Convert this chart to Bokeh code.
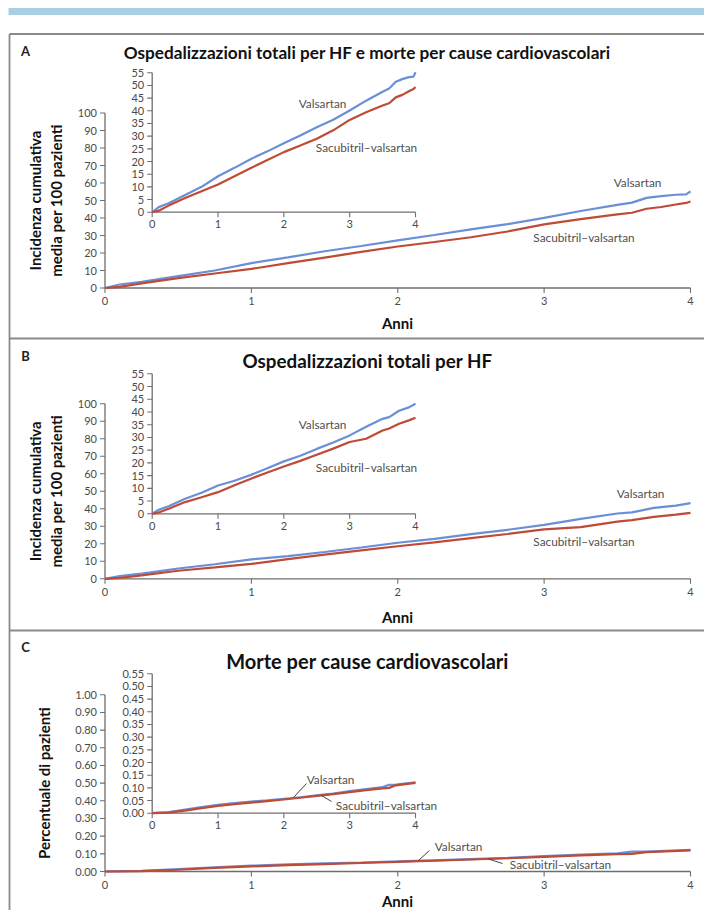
import math
from bokeh.plotting import figure
from bokeh.models import Range1d
from bokeh.core.properties import value
from bokeh.embed import file_html
from bokeh.resources import INLINE

# ---------------- data ----------------
year_ticks = [0, 1, 2, 3, 4]
year_labels = ["0", "1", "2", "3", "4"]

main_ab_yticks = [0, 10, 20, 30, 40, 50, 60, 70, 80, 90, 100]
inset_ab_yticks = [0, 5, 10, 15, 20, 25, 30, 35, 40, 45, 50, 55]
main_c_yticks = [0.0, 0.1, 0.2, 0.3, 0.4, 0.5, 0.6, 0.7, 0.8, 0.9, 1.0]
inset_c_yticks = [0.0, 0.05, 0.10, 0.15, 0.20, 0.25, 0.30, 0.35, 0.40, 0.45, 0.50, 0.55]

a_t = [0, 0.1, 0.25, 0.5, 0.75, 1.0, 1.25, 1.5, 1.75, 2.0, 2.25, 2.5, 2.75, 3.0, 3.25, 3.5, 3.6, 3.7, 3.8, 3.9, 3.97, 4.0]
a_val = [0, 2.0, 3.5, 6.8, 10.0, 14.2, 17.5, 21.0, 24.0, 27.2, 30.3, 33.5, 36.5, 40.1, 44.0, 47.5, 48.8, 51.5, 52.5, 53.3, 53.5, 55.2]
a_sac = [0, 0.6, 2.6, 5.6, 8.3, 10.9, 14.2, 17.4, 20.6, 23.7, 26.3, 29.0, 32.3, 36.4, 39.4, 42.1, 43.0, 45.3, 46.3, 47.7, 48.6, 49.4]

b_t = [0, 0.1, 0.25, 0.5, 0.75, 1.0, 1.25, 1.5, 1.75, 2.0, 2.25, 2.5, 2.75, 3.0, 3.25, 3.5, 3.6, 3.75, 3.9, 4.0]
b_val = [0, 1.6, 3.0, 5.9, 8.3, 11.1, 13.0, 15.3, 17.9, 20.6, 22.8, 25.5, 28.0, 30.8, 34.2, 37.3, 38.0, 40.5, 41.8, 43.2]
b_sac = [0, 0.5, 2.0, 4.6, 6.5, 8.5, 11.2, 13.8, 16.2, 18.6, 20.8, 23.2, 25.6, 28.2, 29.5, 32.7, 33.5, 35.4, 36.7, 37.7]

c_t = [0, 0.25, 0.5, 0.75, 1.0, 1.25, 1.5, 1.75, 2.0, 2.25, 2.5, 2.75, 3.0, 3.25, 3.5, 3.6, 3.7, 4.0]
c_val = [0, 0.004, 0.014, 0.024, 0.033, 0.040, 0.046, 0.051, 0.057, 0.063, 0.070, 0.077, 0.087, 0.095, 0.103, 0.112, 0.113, 0.122]
c_sac = [0, 0.002, 0.010, 0.020, 0.029, 0.036, 0.042, 0.048, 0.054, 0.061, 0.068, 0.075, 0.083, 0.091, 0.098, 0.100, 0.110, 0.120]

series_names = ["Valsartan", "Sacubitril\u2013valsartan"]
titles = ["Ospedalizzazioni totali per HF e morte per cause cardiovascolari",
          "Ospedalizzazioni totali per HF",
          "Morte per cause cardiovascolari"]
letters = ["A", "B", "C"]

# ---------------- styling / layout ----------------
BLUE = "#6a8fd6"
RED = "#bf4a36"
AX = "#6e6e6e"
TICK_TXT = "#4a4a4a"
CURVE_TXT = "#505050"
FONT = "Lato"

PX0, PX1 = 0, 704
PY0, PY1 = 0, 910

p = figure(width=PX1 - PX0, height=PY1 - PY0,
           x_range=Range1d(PX0, PX1), y_range=Range1d(PY1, PY0),
           x_axis_location=None, y_axis_location=None,
           output_backend="svg", toolbar_location=None, min_border=0)
p.outline_line_color = None
p.grid.visible = False
p.background_fill_color = "white"
p.border_fill_color = "white"

xr, yr = {}, {}


def add_ranges(name, xpx, xd, ypx, yd):
    sx = (xd[1] - xd[0]) / (xpx[1] - xpx[0])
    xr[name] = Range1d(xd[0] + (PX0 - xpx[0]) * sx, xd[0] + (PX1 - xpx[0]) * sx)
    sy = (yd[1] - yd[0]) / (ypx[0] - ypx[1])
    yr[name] = Range1d(yd[0] - (PY1 - ypx[0]) * sy, yd[0] + (ypx[0] - PY0) * sy)
    return sx, sy


def draw_axes(name, sx, sy, yticks, ylabels, fs, xlab_dy, ylab_dx, tl=5):
    kw = dict(x_range_name=name, y_range_name=name)
    x0, x1 = year_ticks[0], year_ticks[-1]
    y0, y1 = yticks[0], yticks[-1]
    p.segment(x0=[x0, x0], y0=[y0, y0], x1=[x1, x0], y1=[y0, y1],
              line_color=AX, line_width=1.3, **kw)
    n, m = len(year_ticks), len(yticks)
    p.segment(x0=year_ticks, y0=[y0] * n, x1=year_ticks, y1=[y0 - tl * sy] * n,
              line_color=AX, line_width=1.1, **kw)
    p.segment(x0=[x0] * m, y0=yticks, x1=[x0 - tl * sx] * m, y1=yticks,
              line_color=AX, line_width=1.1, **kw)
    p.text(x=year_ticks, y=[y0] * n, text=year_labels, y_offset=xlab_dy,
           text_align="center", text_baseline="middle", text_font=value(FONT),
           text_font_size=f"{fs}px", text_color=TICK_TXT, **kw)
    p.text(x=[x0] * m, y=yticks, text=ylabels, x_offset=-ylab_dx,
           text_align="right", text_baseline="middle", text_font=value(FONT),
           text_font_size=f"{fs}px", text_color=TICK_TXT, **kw)


def draw_curves(name, t, v1, v2):
    kw = dict(x_range_name=name, y_range_name=name)
    p.line(t, v1, line_color=BLUE, line_width=2.2, **kw)
    p.line(t, v2, line_color=RED, line_width=2.2, **kw)


def txt(x, y, s, size, color="#111111", style="normal", align="center", angle=0.0):
    p.text(x=[x], y=[y], text=[s], text_align=align, text_baseline="middle",
           text_font=value(FONT), text_font_size=f"{size}px", text_color=color,
           text_font_style=style, angle=angle)


# top decoration bar and panel frames (page coordinates)
p.quad(left=[8], right=[712], top=[7.5], bottom=[14.5], fill_color="#a8cfe3", line_color=None)
p.segment(x0=[9, 9, 9, 9], y0=[33.5, 338, 630, 33.5], x1=[712, 712, 712, 9], y1=[33.5, 338, 630, 918],
          line_color="#8a8a8a", line_width=1.8)

main_x = (104.5, 690)
inset_x = (151.7, 415)

panels = [
    dict(key="A", t=a_t, v=a_val, s=a_sac,
         main_y=(287.5, 112.5), main_d=(0, 100), inset_y=(211.7, 72.3), inset_d=(0, 55),
         main_ticks=main_ab_yticks, inset_ticks=inset_ab_yticks, fmt="{:d}",
         title_y=51.5, title_fs=17.2, letter_y=50, anni_y=322,
         ylabel=["Incidenza cumulativa", "media per 100 pazienti"],
         lab_inset=[(322, 102.7), (366, 146.7)], lab_main=[(637, 181.7), (583.5, 237.3)]),
    dict(key="B", t=b_t, v=b_val, s=b_sac,
         main_y=(578.3, 403.3), main_d=(0, 100), inset_y=(513.3, 373.3), inset_d=(0, 55),
         main_ticks=main_ab_yticks, inset_ticks=inset_ab_yticks, fmt="{:d}",
         title_y=360, title_fs=18.8, letter_y=355, anni_y=616,
         ylabel=["Incidenza cumulativa", "media per 100 pazienti"],
         lab_inset=[(322, 424.3), (366, 466.7)], lab_main=[(640, 493.3), (583.5, 540.7)]),
    dict(key="C", t=c_t, v=c_val, s=c_sac,
         main_y=(871, 694.3), main_d=(0, 1.0), inset_y=(812.7, 673.3), inset_d=(0, 0.55),
         main_ticks=main_c_yticks, inset_ticks=inset_c_yticks, fmt="{:.2f}",
         title_y=660, title_fs=20, letter_y=646, anni_y=900,
         ylabel=["Percentuale di pazienti"],
         lab_inset=[(330, 779.3), (386, 805)], lab_main=[(458, 846), (560, 864)]),
]

for i, P in enumerate(panels):
    k = P["key"]
    # letter and title
    txt(25, P["letter_y"], letters[i], 13, color="#222222", style="bold")
    txt(367, P["title_y"], titles[i], P["title_fs"], style="bold")
    # main plot
    mname, iname = "main" + k, "inset" + k
    sx, sy = add_ranges(mname, main_x, (0, 4), P["main_y"], P["main_d"])
    fmt = P["fmt"]
    draw_axes(mname, sx, sy, P["main_ticks"], [fmt.format(v) for v in P["main_ticks"]], 11, 13, 8)
    draw_curves(mname, P["t"], P["v"], P["s"])
    # inset plot
    sx2, sy2 = add_ranges(iname, inset_x, (0, 4), P["inset_y"], P["inset_d"])
    draw_axes(iname, sx2, sy2, P["inset_ticks"], [fmt.format(v) for v in P["inset_ticks"]], 11, 12, 8)
    draw_curves(iname, P["t"], P["v"], P["s"])
    # curve labels
    for (x, y), s in zip(P["lab_inset"], series_names):
        txt(x, y, s, 11.8, color=CURVE_TXT)
    for (x, y), s in zip(P["lab_main"], series_names):
        txt(x, y, s, 11.8, color=CURVE_TXT)
    # axis titles
    txt(397, P["anni_y"], "Anni", 15, style="bold")
    yc = (P["main_y"][0] + P["main_y"][1]) / 2
    if len(P["ylabel"]) == 2:
        txt(34, yc, P["ylabel"][0], 15, style="bold", angle=math.pi / 2)
        txt(55, yc, P["ylabel"][1], 15, style="bold", angle=math.pi / 2)
    else:
        txt(43, yc, P["ylabel"][0], 15, style="bold", angle=math.pi / 2)

# leader lines for panel C labels (page coordinates)
p.segment(x0=[306, 331, 429, 502], y0=[783, 801, 850, 863], x1=[293, 321, 418, 488], y1=[797, 795, 860, 858.5],
          line_color="#444444", line_width=1)

p.extra_x_ranges = xr
p.extra_y_ranges = yr

open("out.html", "w").write(file_html(p, INLINE))
